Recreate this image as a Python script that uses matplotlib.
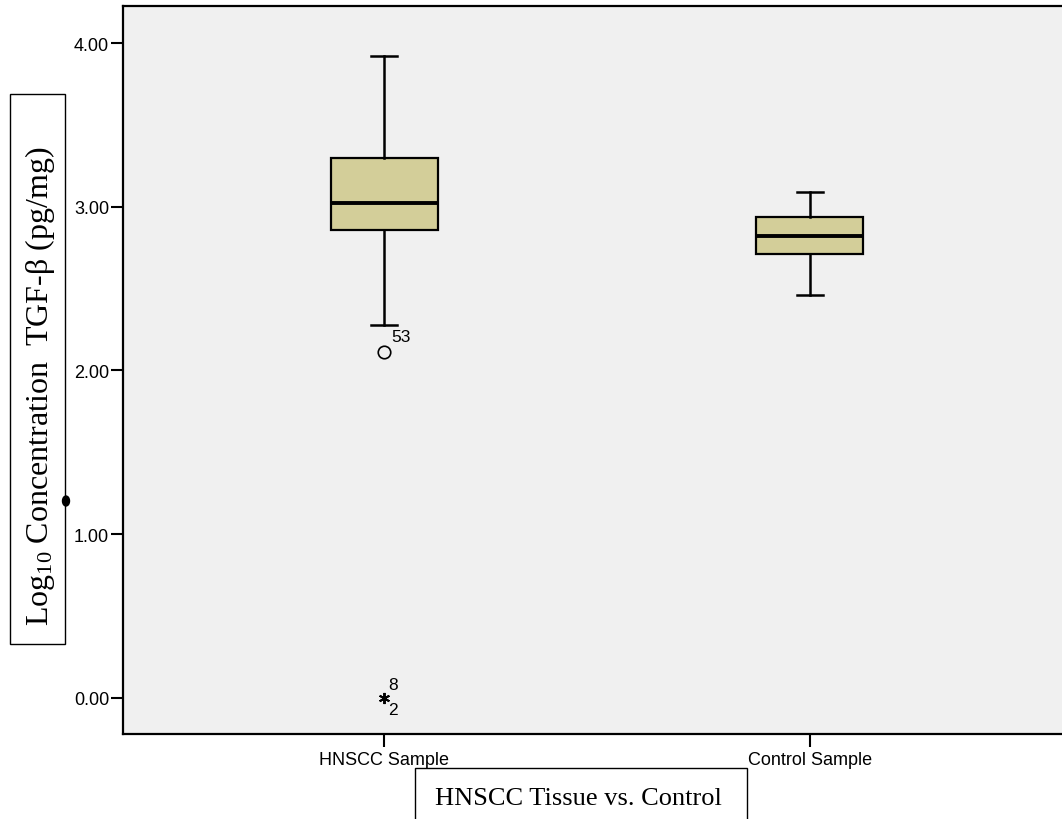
import matplotlib.pyplot as plt
import matplotlib as mpl
from matplotlib.patches import Rectangle, Ellipse

mpl.rcParams.update({
    "font.family": "Liberation Sans",
    "mathtext.fontset": "custom",
    "mathtext.rm": "Liberation Serif",
    "mathtext.it": "Liberation Serif:italic",
})

# box statistics
groups = ["HNSCC Sample", "Control Sample"]
whislo = [2.28, 2.46]
q1 = [2.86, 2.71]
med = [3.02, 2.82]
q3 = [3.30, 2.94]
whishi = [3.92, 3.09]

# outliers: (group index, value, case label)
mild_out = [(0, 2.11, "53")]
extreme_out = [(0, 0.0, "8"), (0, 0.0, "2")]

yticks = [0.0, 1.0, 2.0, 3.0, 4.0]

fig = plt.figure(figsize=(10.62, 8.2), dpi=100)
ax = fig.add_axes([123 / 1062, 1 - 735 / 820, 948 / 1062, 728 / 820])
ax.set_facecolor("#f0f0f0")

stats = []
for i, g in enumerate(groups):
    stats.append(dict(label=g, whislo=whislo[i], q1=q1[i], med=med[i],
                      q3=q3[i], whishi=whishi[i], fliers=[]))

ax.bxp(stats, positions=[1, 2], widths=0.251, capwidths=0.061,
       patch_artist=True, showfliers=False,
       boxprops=dict(facecolor="#d3ce99", edgecolor="black", linewidth=1.6),
       medianprops=dict(color="black", linewidth=2.8),
       whiskerprops=dict(color="black", linewidth=1.8),
       capprops=dict(color="black", linewidth=1.8))

for gi, v, lab in mild_out:
    ax.plot(gi + 1, v, "o", mfc="none", mec="black", ms=9, mew=1.2)
    ax.annotate(lab, (gi + 1, v), xytext=(5, 6), textcoords="offset points",
                fontsize=12.5, ha="left", va="bottom")

gi, v, _ = extreme_out[0]
ax.plot(gi + 1, v, marker=(6, 2, 0), color="black", ms=8, mew=1.4)
ax.annotate(extreme_out[0][2], (gi + 1, v), xytext=(3, 4),
            textcoords="offset points", fontsize=12.5, ha="left", va="bottom")
ax.annotate(extreme_out[1][2], (gi + 1, v), xytext=(3, -3),
            textcoords="offset points", fontsize=12.5, ha="left", va="top")

ax.set_xlim(0.387, 2.613)
ax.set_ylim(-0.22, 4.226)
ax.set_yticks(yticks)
ax.set_yticklabels(["%.2f" % t for t in yticks], fontsize=13)
ax.set_xticks([1, 2])
ax.set_xticklabels(groups, fontsize=13)
ax.tick_params(length=9, width=1.5, color="black")
ax.tick_params(axis="y", pad=1)
ax.tick_params(axis="x", pad=3)
for s in ["left", "top", "bottom"]:
    ax.spines[s].set_linewidth(1.6)
ax.spines["right"].set_visible(False)

# boxed axis titles
fig.add_artist(Rectangle((10 / 1062, 1 - 645 / 820), 55 / 1062, 550 / 820,
                         transform=fig.transFigure, fill=False,
                         edgecolor="black", linewidth=1.0))
fig.text(40 / 1062, 1 - 386 / 820,
         r"Log$_{10}$ Concentration  TGF-β (pg/mg)",
         rotation=90, ha="center", va="center", fontsize=23,
         family="Liberation Serif")
fig.add_artist(Ellipse((66 / 1062, 1 - 502 / 820), 7 / 1062, 10 / 820,
                       transform=fig.transFigure, color="black"))

fig.add_artist(Rectangle((415 / 1062, -0.05), 332 / 1062, 0.05 + 51 / 820,
                         transform=fig.transFigure, fill=False,
                         edgecolor="black", linewidth=1.0))
fig.text(435 / 1062, 1 - 805 / 820, "HNSCC Tissue vs. Control",
         ha="left", va="baseline", fontsize=19, family="Liberation Serif")

fig.savefig("out.png", dpi=100)
